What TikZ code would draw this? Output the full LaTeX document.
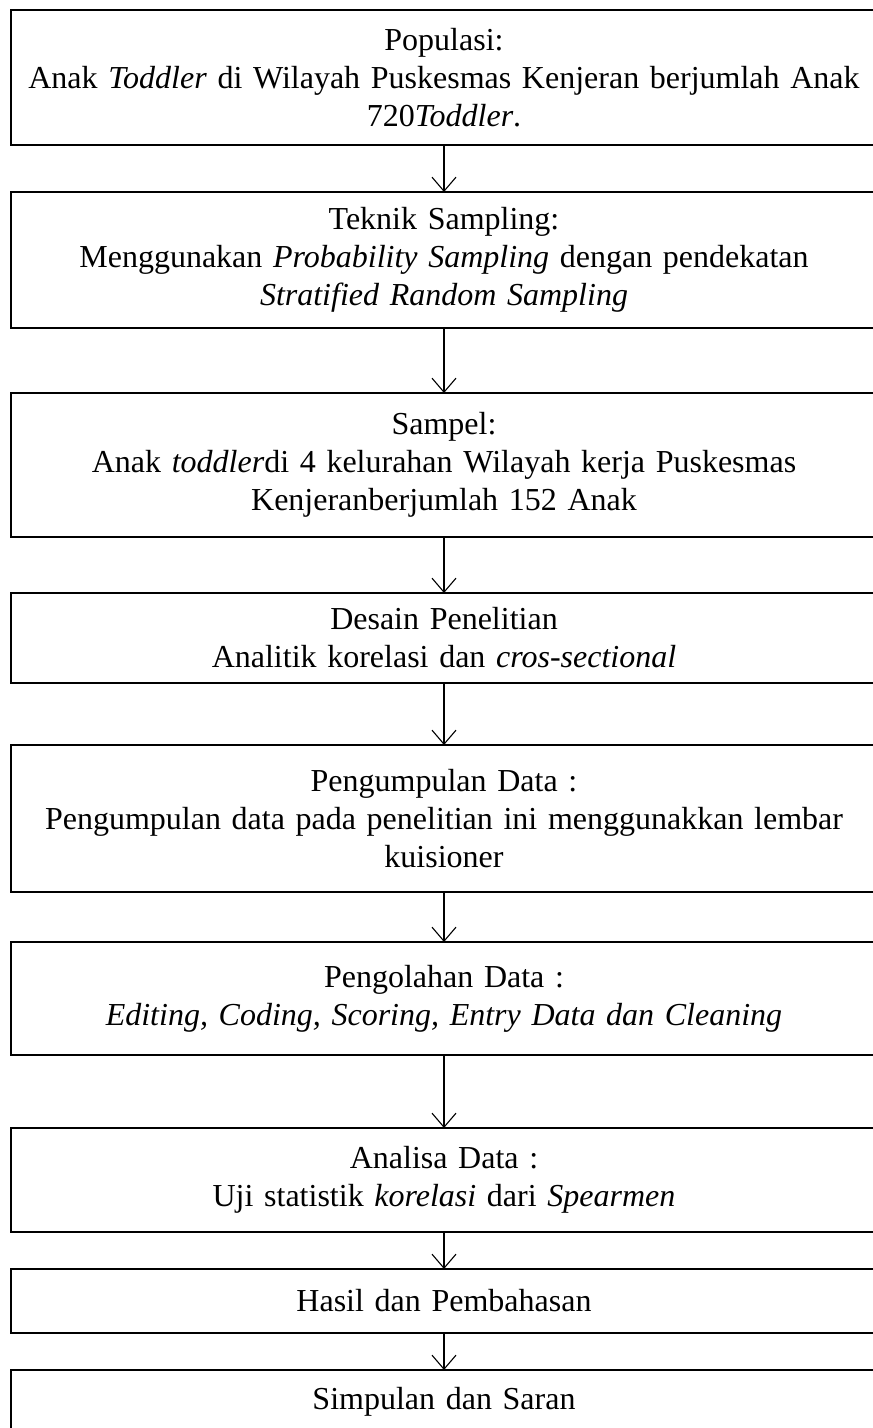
\documentclass[tikz,border=0pt]{standalone}
\usepackage{fontspec}
\setmainfont{Liberation Serif}
\usetikzlibrary{positioning, arrows.meta}

\begin{document}
\begin{tikzpicture}[x=1pt, y=1pt, node distance=50pt, font=\fontsize{32}{38}\selectfont]
        \tikzstyle{block} = [rectangle, draw, line width=2pt, text width=858pt, align=center, inner xsep=4pt, inner ysep=2pt, outer sep=0pt]
        \tikzstyle{line} = [draw, line width=1.1pt, -{Straight Barb[length=14pt,width=24pt,line width=1.1pt]}]

        \useasboundingbox (0,0) rectangle (873,-1428);

        \node [block, minimum height=135pt] at (444,-77.5) (pop) {Populasi:\\ Anak \textit{Toddler} di Wilayah Puskesmas Kenjeran berjumlah Anak\\ 720\textit{Toddler}.};
        \node [block, minimum height=136pt, below=47pt of pop] (teknik) {Teknik Sampling:\\ Menggunakan \textit{Probability Sampling} dengan pendekatan\\ \textit{Stratified Random Sampling}};
        \node [block, minimum height=144pt, below=65pt of teknik] (sampel) {Sampel:\\ Anak \textit{toddler}di 4 kelurahan Wilayah kerja Puskesmas\\ Kenjeranberjumlah 152 Anak};
        \node [block, minimum height=90pt, below=56pt of sampel] (desain) {Desain Penelitian\\ Analitik korelasi dan \textit{cros-sectional}};
        \node [block, minimum height=147pt, below=62pt of desain] (kumpul) {Pengumpulan Data :\\ Pengumpulan data pada penelitian ini menggunakkan lembar\\ kuisioner};
        \node [block, minimum height=113pt, below=50pt of kumpul] (olah) {Pengolahan Data :\\ \textit{Editing, Coding, Scoring, Entry Data dan Cleaning}};
        \node [block, minimum height=104pt, below=73pt of olah] (analisa) {Analisa Data :\\ Uji statistik \textit{korelasi} dari \textit{Spearmen}};
        \node [block, minimum height=64pt, below=37pt of analisa] (hasil) {Hasil dan Pembahasan};
        \node [block, minimum height=64pt, below=37pt of hasil] (simpulan) {Simpulan dan Saran};

        \path [line] (pop) -- (teknik);
        \path [line] (teknik) -- (sampel);
        \path [line] (sampel) -- (desain);
        \path [line] (desain) -- (kumpul);
        \path [line] (kumpul) -- (olah);
        \path [line] (olah) -- (analisa);
        \path [line] (analisa) -- (hasil);
        \path [line] (hasil) -- (simpulan);
    \end{tikzpicture}
\end{document}
